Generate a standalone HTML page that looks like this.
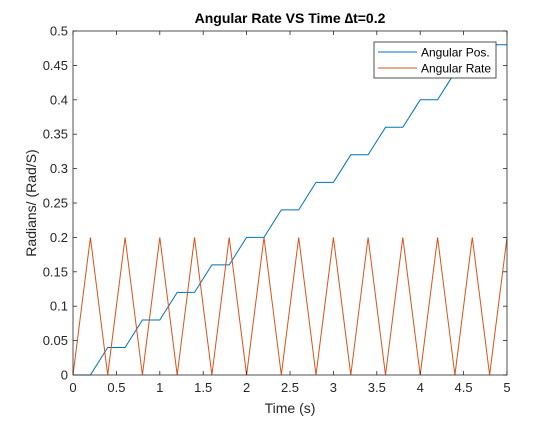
<!DOCTYPE html>
<html><head><meta charset="utf-8"><style>
body{margin:0;background:#fff;}
text{font-family:"Liberation Sans",sans-serif;}
</style></head><body>
<svg id="chart" width="560" height="420">
<rect width="560" height="420" fill="#fff"/>
<g id="plot"></g>
</svg>
<script>
const posX=[0,0.2,0.4,0.6,0.8,1.0,1.2,1.4,1.6,1.8,2.0,2.2,2.4,2.6,2.8,3.0,3.2,3.4,3.6,3.8,4.0,4.2,4.4,4.6,4.8,5.0];
const posY=[0,0,0.04,0.04,0.08,0.08,0.12,0.12,0.16,0.16,0.2,0.2,0.24,0.24,0.28,0.28,0.32,0.32,0.36,0.36,0.4,0.4,0.44,0.44,0.48,0.48];
const rateX=[0,0.2,0.4,0.6,0.8,1.0,1.2,1.4,1.6,1.8,2.0,2.2,2.4,2.6,2.8,3.0,3.2,3.4,3.6,3.8,4.0,4.2,4.4,4.6,4.8,5.0];
const rateY=[0,0.2,0,0.2,0,0.2,0,0.2,0,0.2,0,0.2,0,0.2,0,0.2,0,0.2,0,0.2,0,0.2,0,0.2,0,0.2];
const xTicks=[0,0.5,1,1.5,2,2.5,3,3.5,4,4.5,5];
const yTicks=[0,0.05,0.1,0.15,0.2,0.25,0.3,0.35,0.4,0.45,0.5];
const L=73,R=507,T=31,B=375;
const sx=v=>L+(v/5)*(R-L), sy=v=>B-(v/0.5)*(B-T);
const NS="http://www.w3.org/2000/svg";
const g=document.getElementById('plot');
function mk(t,a,txt){const e=document.createElementNS(NS,t);for(const k in a)e.setAttribute(k,a[k]);if(txt!=null)e.textContent=txt;g.appendChild(e);return e;}
let e;
e=mk('rect',{x:L,y:T,width:R-L,height:B-T,fill:'#fff',stroke:'none'});


function line(xs,ys,c,name){const p=xs.map((x,i)=>sx(x).toFixed(1)+','+sy(ys[i]).toFixed(1)).join(' ');
 const el=mk('polyline',{points:p,fill:'none',stroke:c,'stroke-width':1});
 
 }
line(posX,posY,'#0072bd','angular-pos-line');
line(rateX,rateY,'#d95319','angular-rate-line');
e=mk('rect',{x:L,y:T,width:R-L,height:B-T,fill:'none',stroke:'#262626','stroke-width':0.8});


xTicks.forEach(v=>{const x=sx(v);
 mk('line',{x1:x,x2:x,y1:B,y2:B-4,stroke:'#262626','stroke-width':0.8});
 mk('line',{x1:x,x2:x,y1:T,y2:T+4,stroke:'#262626','stroke-width':0.8});
 const t=mk('text',{x:x,y:B+17,'text-anchor':'middle','font-size':13,fill:'#262626'},String(v));
 
 });
yTicks.forEach(v=>{const y=sy(v);
 mk('line',{x1:L,x2:L+4,y1:y,y2:y,stroke:'#262626','stroke-width':0.8});
 mk('line',{x1:R,x2:R-4,y1:y,y2:y,stroke:'#262626','stroke-width':0.8});
 const t=mk('text',{x:L-5,y:y+4.5,'text-anchor':'end','font-size':13,fill:'#262626'},String(v));
 
 });
e=mk('text',{x:290,y:413,'text-anchor':'middle','font-size':14,fill:'#262626'},'Time (s)');


e=mk('text',{x:36,y:203,'text-anchor':'middle','font-size':14,fill:'#262626',transform:'rotate(-90 36 203)'},'Radians/ (Rad/S)');


e=mk('text',{x:290,y:23,'text-anchor':'middle','font-size':14,'font-weight':'bold',fill:'#000'},'Angular Rate VS Time \u2206t=0.2');


e=mk('rect',{x:374,y:42,width:122,height:36,fill:'#fff',stroke:'#262626','stroke-width':0.8});


mk('line',{x1:378,x2:417,y1:52,y2:52,stroke:'#0072bd'});
mk('line',{x1:378,x2:417,y1:68,y2:68,stroke:'#d95319'});
e=mk('text',{x:421,y:56.5,'font-size':12,fill:'#000'},'Angular Pos.');


e=mk('text',{x:421,y:72.5,'font-size':12,fill:'#000'},'Angular Rate');


</script>
</body></html>
